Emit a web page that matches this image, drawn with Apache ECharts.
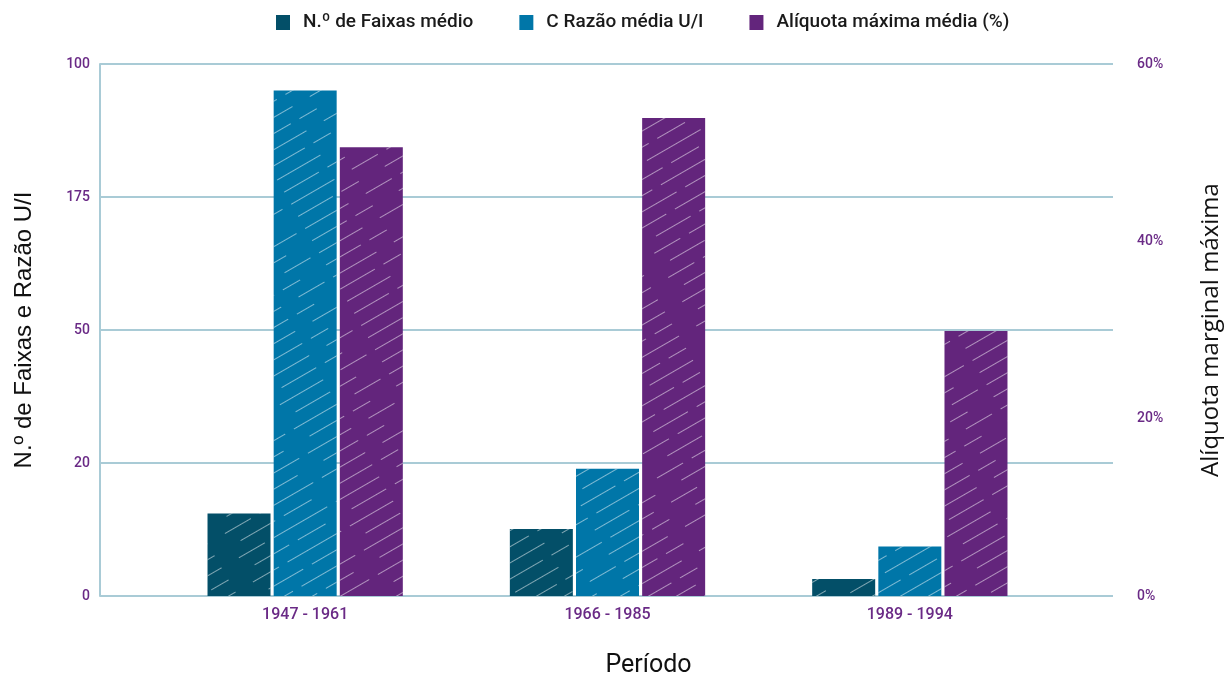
<!DOCTYPE html>
<html><head><meta charset="utf-8">
<script src="https://cdn.jsdelivr.net/npm/echarts@6/dist/echarts.min.js"></script>
<style>html,body{margin:0;padding:0;background:#fff}#c{width:1230px;height:678px}</style>
</head><body><div id="c"></div>
<script>
const categories = ['1947 - 1961', '1966 - 1985', '1989 - 1994'];
const nFaixas = [15.5, 12.6, 3.2];
const razaoUI = [95.0, 23.9, 9.3];
const aliquota = [50.6, 53.9, 29.9];
const leftTickLabels = ['0', '20', '50', '175', '100'];
const rightTickLabels = ['0%', '20%', '40%', '60%'];

const grid = '#a9cbd6';
const purpleTxt = '#6a2a86';
const decal = {
  symbol: 'rect', symbolSize: 1,
  dashArrayX: [[30, 10, 50, 20], [20, 30, 40, 10]], dashArrayY: [1, 13],
  rotation: -Math.PI / 6,
  color: 'rgba(255,255,255,0.5)'
};
const chart = echarts.init(document.getElementById('c'));
chart.setOption({
  animation: false,
  backgroundColor: '#fff',
  legend: {
    top: 8, left: 271, itemWidth: 14, itemHeight: 15, itemGap: 46,
    icon: 'rect',
    itemStyle: { decal: 'none' },
    textStyle: { fontFamily: 'Roboto, sans-serif', fontWeight: 500, fontSize: 19, color: '#1a1a1a', padding: [0, 0, 0, 8] },
    data: ['N.º de Faixas médio', 'C Razão média U/I', 'Alíquota máxima média (%)']
  },
  grid: [
    { left: 100, right: 117, top: 64, bottom: 82, outerBoundsMode: 'none', containLabel: false },
    { left: 154, right: 169, top: 64, bottom: 82, outerBoundsMode: 'none', containLabel: false }
  ],
  xAxis: [
    { type: 'category', gridIndex: 0, data: categories, show: false },
    {
      type: 'category', gridIndex: 1, data: categories,
      axisLine: { show: false }, axisTick: { show: false },
      axisLabel: { color: purpleTxt, fontSize: 16, fontWeight: 500, margin: 11, fontFamily: 'Roboto, sans-serif' },
      name: 'Período', nameLocation: 'middle', nameGap: 57,
      nameTextStyle: { fontSize: 25, color: '#111', fontFamily: 'Roboto, sans-serif', padding: [0, 0, 0, 82] }
    }
  ],
  yAxis: [
    {
      type: 'value', gridIndex: 0, min: 0, max: 100, interval: 25,
      axisLine: { show: true, lineStyle: { color: grid, width: 2 } },
      axisTick: { show: false },
      splitLine: { lineStyle: { color: grid, width: 2 } },
      axisLabel: { color: purpleTxt, fontSize: 14, fontWeight: 500, margin: 10,
        fontFamily: 'Roboto, sans-serif',
        formatter: v => leftTickLabels[Math.round(v / 25)] },
      name: 'N.º de Faixas e Razão U/I', nameLocation: 'middle', nameGap: 64, nameRotate: 90,
      nameTextStyle: { fontSize: 24, color: '#111', fontFamily: 'Liberation Sans, sans-serif' }
    },
    {
      type: 'value', gridIndex: 0, position: 'right', min: 0, max: 60, interval: 20,
      axisLine: { show: false }, axisTick: { show: false }, splitLine: { show: false },
      axisLabel: { color: purpleTxt, fontSize: 14, fontWeight: 500, margin: 24, fontFamily: 'Roboto, sans-serif',
        formatter: v => rightTickLabels[Math.round(v / 20)] },
      name: 'Alíquota marginal máxima', nameLocation: 'middle', nameGap: 86, nameRotate: 90,
      nameTextStyle: { fontSize: 24, color: '#111', fontFamily: 'Open Sans, sans-serif' }
    },
    { type: 'value', gridIndex: 1, min: 0, max: 100, show: false, splitLine: { show: false } },
    { type: 'value', gridIndex: 1, min: 0, max: 60, show: false, splitLine: { show: false } }
  ],
  series: [
    { name: 'N.º de Faixas médio', type: 'bar', xAxisIndex: 1, yAxisIndex: 2, data: nFaixas,
      barWidth: 63, barGap: '5%', itemStyle: { color: '#034f68', decal } },
    { name: 'C Razão média U/I', type: 'bar', xAxisIndex: 1, yAxisIndex: 2, data: razaoUI,
      barWidth: 63, barGap: '5%', itemStyle: { color: '#0076a8', decal } },
    { name: 'Alíquota máxima média (%)', type: 'bar', xAxisIndex: 1, yAxisIndex: 3, data: aliquota,
      barWidth: 63, barGap: '5%', itemStyle: { color: '#63257c', decal } }
  ]
});
</script></body></html>
